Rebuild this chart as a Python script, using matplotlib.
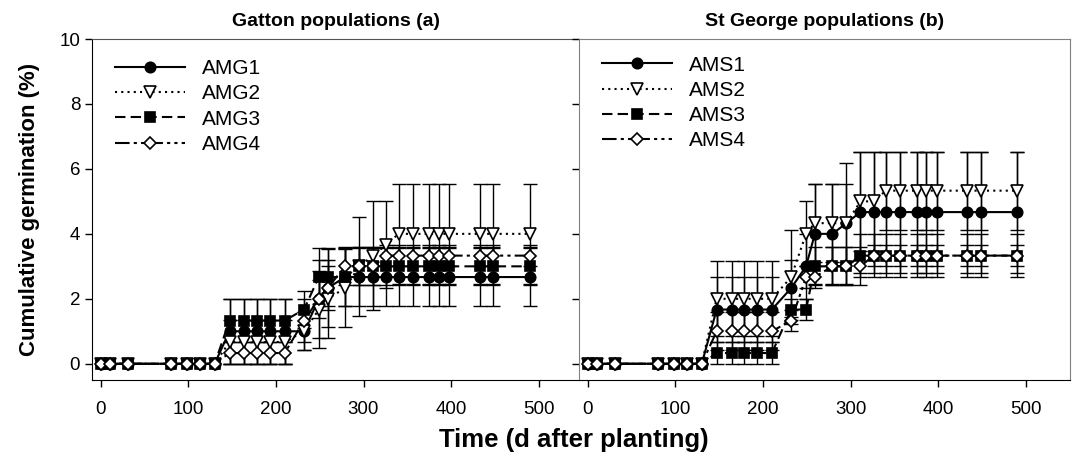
import numpy as np
import matplotlib
matplotlib.use("Agg")
import matplotlib.pyplot as plt

plt.rcParams['font.family'] = ['Liberation Sans', 'DejaVu Sans']

# sampling days (same for both sites)
days = [0, 10, 31, 80, 98, 113, 130, 147, 164, 178, 193, 210, 232, 249, 259,
        279, 295, 311, 326, 340, 356, 375, 386, 398, 433, 448, 490]

# Gatton populations (a)
amg1 = [0]*7 + [1.0]*5 + [1.0, 2.0, 2.33, 2.67, 2.67, 2.67, 2.67] + [2.67]*8
amg1_se = [0]*7 + [1.0]*5 + [0.58, 1.2, 1.2, 0.88, 0.88, 0.88, 0.88] + [0.88]*8
amg2 = [0]*7 + [0.67]*5 + [1.0, 1.67, 2.0, 2.33, 3.0, 3.33, 3.67] + [4.0]*8
amg2_se = [0]*7 + [0.67]*5 + [0.58, 1.2, 1.2, 1.2, 1.53, 1.67, 1.33] + [1.53]*8
amg3 = [0]*7 + [1.33]*5 + [1.67, 2.67, 2.67, 2.67, 3.0, 3.0, 3.0] + [3.0]*8
amg3_se = [0]*7 + [0.67]*5 + [0.58, 0.88, 0.88, 0.88, 0.58, 0.58, 0.58] + [0.58]*8
amg4 = [0]*7 + [0.33]*5 + [1.33, 2.0, 2.33, 3.0, 3.0, 3.0, 3.33] + [3.33]*8
amg4_se = [0]*7 + [0.33]*5 + [0.67, 0.58, 0.67, 0.58, 0.58, 0.58, 0.33] + [0.33]*8

# St George populations (b)
ams1 = [0]*7 + [1.67]*5 + [2.33, 3.0, 4.0, 4.0, 4.33, 4.67, 4.67] + [4.67]*8
ams1_se = [0]*7 + [1.0]*5 + [0.88, 1.0, 1.53, 1.53, 1.86, 1.86, 1.86] + [1.86]*8
ams2 = [0]*7 + [2.0]*5 + [2.67, 4.0, 4.33, 4.33, 4.33, 5.0, 5.0] + [5.33]*8
ams2_se = [0]*7 + [1.15]*5 + [1.45, 1.0, 1.2, 1.2, 1.2, 1.53, 1.53] + [1.2]*8
ams3 = [0]*7 + [0.33]*5 + [1.67, 1.67, 3.0, 3.0, 3.0, 3.33, 3.33] + [3.33]*8
ams3_se = [0]*7 + [0.33]*5 + [0.33, 0.33, 0.58, 0.58, 0.58, 0.67, 0.67] + [0.67]*8
ams4 = [0]*7 + [1.0]*5 + [1.33, 2.67, 2.67, 3.0, 3.0, 3.0, 3.33] + [3.33]*8
ams4_se = [0]*7 + [0.58]*5 + [0.33, 0.33, 0.33, 0.58, 0.58, 0.58, 0.33] + [0.33]*8

styles = [
    dict(marker='o', ls='-', mfc='black', ms=7.5),
    dict(marker='v', ls=(0, (1, 2)), mfc='white', ms=8),
    dict(marker='s', ls=(0, (5, 2.5)), mfc='black', ms=7),
    dict(marker='D', ls=(0, (7, 2, 1.5, 2, 1.5, 2)), mfc='white', ms=6.5),
]


def draw_panel(ax, series, errs, names, title, leg_y):
    t = np.array(days)
    for y, se, name, st in zip(series, errs, names, styles):
        y = np.array(y); se = np.array(se)
        m = se > 0
        ax.errorbar(t[m], y[m], yerr=se[m], fmt='none', ecolor='black',
                    elinewidth=1, capsize=5, capthick=1, zorder=2)
        ax.plot(t, y, color='black', lw=1.5, ls=st['ls'], marker=st['marker'],
                mfc=st['mfc'], mec='black', mew=1.2, ms=st['ms'], label=name,
                zorder=3)
    ax.set_ylim(-0.5, 10)
    ax.set_yticks([0, 2, 4, 6, 8, 10])
    ax.set_xticks([0, 100, 200, 300, 400, 500])
    ax.tick_params(direction='out', length=5, width=1, labelsize=13.5)
    ax.tick_params(axis='x', pad=10)
    ax.set_title(title, fontsize=14, fontweight='bold', pad=9)
    leg = ax.legend(loc='upper left', bbox_to_anchor=(0.012, leg_y), frameon=False,
                    fontsize=15, handlelength=3.4, handletextpad=0.8,
                    labelspacing=0.3, borderaxespad=0.4)
    return leg


fig = plt.figure(figsize=(10.75, 4.66), dpi=100)
axa = fig.add_axes([92/1075, 86/466, 487/1075, 341/466])
axb = fig.add_axes([579/1075, 86/466, 491/1075, 341/466])

draw_panel(axa, [amg1, amg2, amg3, amg4], [amg1_se, amg2_se, amg3_se, amg4_se],
           ['AMG1', 'AMG2', 'AMG3', 'AMG4'], 'Gatton populations (a)', 0.99)
draw_panel(axb, [ams1, ams2, ams3, ams4], [ams1_se, ams2_se, ams3_se, ams4_se],
           ['AMS1', 'AMS2', 'AMS3', 'AMS4'], 'St George populations (b)', 1.0)

axa.set_xlim(-10, 546)
axb.set_xlim(-10, 550)
axb.tick_params(axis='y', labelleft=False)

axa.spines['right'].set_visible(False)
axa.spines['top'].set_color('#555555')
for side in ['left', 'right', 'top']:
    axb.spines[side].set_color('#808080')

fig.text(30/1075, 1 - 209/466, 'Cumulative germination (%)', rotation=90,
         ha='center', va='center', fontsize=16, fontweight='bold')
fig.text(574/1075, 1 - 440/466, 'Time (d after planting)', ha='center',
         va='center', fontsize=18.5, fontweight='bold')

fig.savefig('out.png', dpi=100)
